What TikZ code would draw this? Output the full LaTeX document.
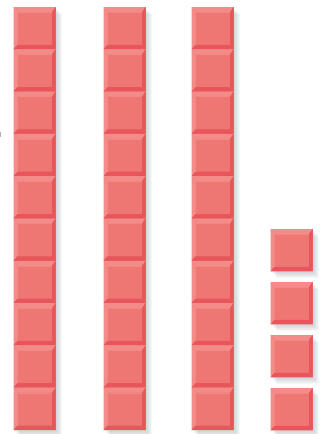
\documentclass[tikz,border=0pt]{standalone}
\usetikzlibrary{positioning}

\definecolor{facered}{HTML}{EF7773}
\definecolor{lightred}{HTML}{F38C88}
\definecolor{darkred}{HTML}{E8555A}
\definecolor{shadowgray}{HTML}{9DA3AC}

\tikzset{
  unitcube/.pic={
    \fill[facered] (0,0) rectangle (42,42.3);
    \fill[lightred] (0,0) -- (42,0) -- (38.5,5) -- (4,5) -- cycle;
    \fill[lightred] (0,0) -- (4,5) -- (4,37.8) -- (0,42.3) -- cycle;
    \fill[darkred] (0,42.3) -- (4,37.8) -- (38.5,37.8) -- (42,42.3) -- cycle;
    \fill[darkred] (42,0) -- (38.5,5) -- (38.5,37.8) -- (42,42.3) -- cycle;
    \draw[facered!88!white, line width=0.3] (4,37.8) -- (4,5) -- (38.5,5);
  },
  softshadow/.style={fill=shadowgray, opacity=0.09}
}

\begin{document}
\begin{tikzpicture}[x=1pt, y=-1pt]
    \useasboundingbox (0,0) rectangle (328,434);

    % Shadows of the rods
    \foreach \x in {13.5,103.5,191.5} {
        \foreach \s in {1.5,2.5,...,6.5} {
            \fill[softshadow] (\x+\s,7+\s) rectangle ++(42,423);
        }
    }

    % Shadows of the single cubes
    \foreach \y in {229,282,335,388} {
        \foreach \s in {1.5,2.5,...,6.5} {
            \fill[softshadow] (270.5+\s,\y+\s) rectangle ++(42,42.3);
        }
    }

    % Rods of ten
    \foreach \x in {13.5,103.5,191.5} {
        \foreach \k in {0,...,9} {
            \pic at (\x,7+42.3*\k) {unitcube};
        }
    }

    % Single cubes
    \foreach \y in {229,282,335,388} {
        \pic at (270.5,\y) {unitcube};
    }

    % Small mark at the left edge
    \fill[gray!60] (0,132) rectangle (1.2,137);
\end{tikzpicture}
\end{document}
